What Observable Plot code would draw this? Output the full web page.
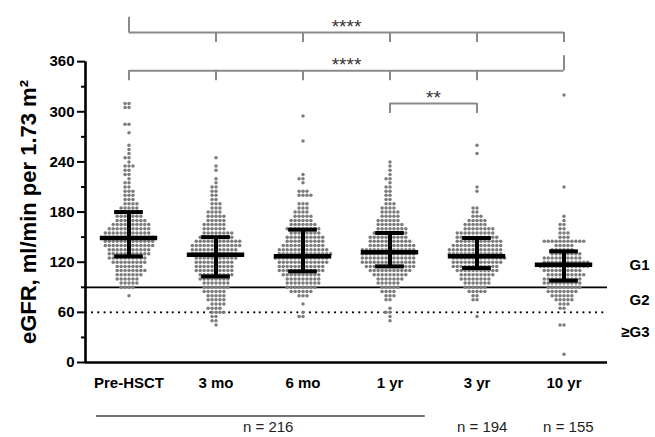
<!DOCTYPE html>
<html>
<head>
<meta charset="utf-8">
<script src="https://cdn.jsdelivr.net/npm/d3@7"></script>
<script src="https://cdn.jsdelivr.net/npm/@observablehq/plot@0.6"></script>
<style>
  html, body { margin: 0; padding: 0; background: #fff; }
  #chart svg { display: block; }
</style>
</head>
<body>
<div id="chart"></div>
<script>
// ---- Data ----
const groups = ["Pre-HSCT", "3 mo", "6 mo", "1 yr", "3 yr", "10 yr"];
const yTicks = [0, 60, 120, 180, 240, 300, 360];
const yMinorTicks = [30, 90, 150, 210, 270, 330];

// median and interquartile range per group
const medians = [149, 129, 127, 132, 127, 117];
const q1 = [127, 103, 109, 115, 113, 98];
const q3 = [180, 150, 159, 155, 149, 133];

// dot rows per group: [eGFR value, number of dots in that row]
const preHSCT = [[310,2],[305,2],[285,2],[275,1],[260,1],[255,1],[250,1],[245,2],[240,1],[235,3],[230,2],[225,2],[220,1],[215,2],[210,2],[205,3],[200,3],[195,3],[190,4],[185,5],[180,7],[175,7],[170,8],[165,10],[160,11],[155,12],[150,13],[145,13],[140,13],[135,11],[130,11],[125,10],[120,9],[115,7],[110,8],[105,7],[100,6],[95,5],[90,4],[80,1]];
const mo3 = [[245,1],[235,1],[230,1],[220,1],[215,1],[210,2],[205,2],[200,2],[195,2],[190,3],[185,3],[180,4],[175,5],[170,5],[165,6],[160,6],[155,8],[150,9],[145,12],[140,13],[135,12],[130,12],[125,11],[120,10],[115,10],[110,10],[105,9],[100,8],[95,7],[90,7],[85,6],[80,5],[75,5],[70,4],[65,4],[60,4],[55,2],[50,2],[45,1]];
const mo6 = [[295,1],[265,1],[225,1],[220,2],[215,1],[205,3],[200,4],[190,3],[185,3],[180,4],[175,5],[170,6],[165,7],[160,9],[155,8],[150,10],[145,10],[140,11],[135,13],[130,14],[125,14],[120,13],[115,12],[110,12],[105,10],[100,9],[95,9],[90,8],[85,6],[80,3],[70,1],[60,1],[55,2]];
const yr1 = [[240,1],[235,1],[230,1],[225,1],[220,2],[215,1],[210,2],[205,2],[200,2],[195,2],[190,3],[185,4],[180,5],[175,5],[170,6],[165,7],[160,8],[155,9],[150,10],[145,11],[140,12],[135,14],[130,14],[125,14],[120,14],[115,13],[110,11],[105,9],[100,7],[95,6],[90,5],[85,4],[80,3],[75,2],[65,1],[60,2],[55,1],[50,1]];
const yr3 = [[260,1],[250,1],[210,1],[205,1],[185,2],[180,2],[175,3],[170,5],[165,6],[160,8],[155,10],[150,11],[145,12],[140,13],[135,14],[130,14],[125,14],[120,13],[115,12],[110,11],[105,9],[100,8],[95,7],[90,6],[85,5],[80,2],[75,2],[55,1]];
const yr10 = [[320,1],[210,1],[175,1],[170,1],[165,2],[160,2],[155,3],[150,3],[145,11],[140,5],[135,6],[130,8],[125,10],[120,12],[115,13],[110,10],[105,10],[100,10],[95,10],[90,9],[85,8],[80,6],[75,5],[70,3],[65,2],[45,2],[10,1]];

const nLabels = ["n = 216", "n = 194", "n = 155"];
const gradeLabels = ["G1", "G2", "\u2265G3"];
const yLabel = "eGFR, ml/min per 1.73 m\u00B2";

// significance brackets
const bracketDefs = [
  {from: "Pre-HSCT", to: "10 yr", label: "****", up: ["Pre-HSCT"]},
  {from: "Pre-HSCT", to: "10 yr", label: "****", up: ["10 yr"]},
  {from: "1 yr", to: "3 yr", label: "**", up: []}
];

// ---- Build tables ----
const rowsByGroup = [preHSCT, mo3, mo6, yr1, yr3, yr10];
const points = groups.flatMap((g, i) =>
  rowsByGroup[i].flatMap(([v, c]) => Array.from({length: c}, () => ({g, v}))));
const stats = groups.map((g, i) => ({g, med: medians[i], lo: q1[i], hi: q3[i]}));

// layout constants (annotation placement, not data)
const bracketLevels = [395, 349, 310];
const upLen = 18, downLen = 12;
const gradeY = [116, 74, 36];

const hSegs = [], vTicks = [], starTexts = [];
bracketDefs.forEach((b, k) => {
  const i0 = groups.indexOf(b.from), i1 = groups.indexOf(b.to);
  const lvl = bracketLevels[k];
  for (let i = i0; i <= i1; i++) {
    hSegs.push({g: groups[i], y: lvl, x1: i === i0 ? 0 : -1, x2: i === i1 ? 0 : 1});
    const up = b.up.includes(groups[i]);
    vTicks.push({g: groups[i], y1: lvl, y2: up ? lvl + upLen : lvl - downLen});
  }
  const mid = (i0 + i1) / 2, mi = Math.round(mid);
  starTexts.push({g: groups[mi], x: (mid - mi) * 2, y: lvl + 6.5, text: b.label});
});

const W = 655, H = 437, mL = 82, mR = 46, mT = 11, mB = 75;
const band = (W - mL - mR) / groups.length;
const dotPeriod = band / 14;
const font = "'Liberation Sans', Arial, Helvetica, sans-serif";

const chart = Plot.plot({
  width: W, height: H,
  marginLeft: mL, marginRight: mR, marginTop: mT, marginBottom: mB,
  facet: {marginTop: 0, marginBottom: 0, marginLeft: 0, marginRight: 0},
  style: {fontFamily: font, background: "white"},
  fx: {domain: groups, padding: 0, label: null},
  x: {domain: [-1, 1], axis: null},
  y: {domain: [0, 420], axis: null},
  marks: [
    // reference lines
    Plot.ruleY([90], {stroke: "black", strokeWidth: 1.8}),
    Plot.ruleY([60], {stroke: "black", strokeWidth: 2.2, strokeDasharray: `0,${dotPeriod}`, strokeLinecap: "round", strokeDashoffset: -7}),
    // dots
    Plot.dot(points, Plot.dodgeX({anchor: "middle", padding: 0.45}, {fx: "g", y: "v", r: 1.75, fill: "#7c7c7c"})),
    // median and IQR
    Plot.ruleX(stats, {fx: "g", x: () => 0, y1: "lo", y2: "hi", stroke: "black", strokeWidth: 4}),
    Plot.ruleY(stats, {fx: "g", y: "med", x1: () => -0.66, x2: () => 0.66, stroke: "black", strokeWidth: 4.5}),
    Plot.ruleY(stats, {fx: "g", y: "lo", x1: () => -0.33, x2: () => 0.33, stroke: "black", strokeWidth: 4}),
    Plot.ruleY(stats, {fx: "g", y: "hi", x1: () => -0.33, x2: () => 0.33, stroke: "black", strokeWidth: 4}),
    // axes
    Plot.ruleY([0], {stroke: "black", strokeWidth: 2.6}),
    Plot.ruleX([groups[0]], {fx: d => d, x: () => -1, y1: () => 0, y2: () => 360, stroke: "black", strokeWidth: 2.6}),
    Plot.axisY({ticks: yTicks, tickSize: 8, tickPadding: 3, strokeWidth: 2, fontSize: 15, fontWeight: "bold", fontFamily: font, fill: "black", label: null}),
    Plot.axisY({ticks: yMinorTicks, tickSize: 4, strokeWidth: 2, text: null, label: null}),
    Plot.axisFx({anchor: "bottom", tickSize: 0, tickPadding: 15, fontSize: 15, fontWeight: "bold", fontFamily: font, fill: "black", label: null}),
    Plot.text([yLabel], {fx: () => groups[0], x: () => -1, y: () => 180, text: d => d, rotate: -90, dx: -57, fontSize: 22, fontWeight: "bold", fontFamily: font, fill: "black"}),
    // grade labels
    Plot.text(gradeLabels, {fx: () => groups[5], x: () => 1, y: (d, i) => gradeY[i], text: d => d, textAnchor: "end", dx: 42, fontSize: 15, fontWeight: "bold", fontFamily: font, fill: "black"}),
    // brackets
    Plot.ruleY(hSegs, {fx: "g", y: "y", x1: "x1", x2: "x2", stroke: "#8a8a8a", strokeWidth: 2}),
    Plot.ruleX(vTicks, {fx: "g", x: () => 0, y1: "y1", y2: "y2", stroke: "#8a8a8a", strokeWidth: 2}),
    Plot.text(starTexts, {fx: "g", x: "x", y: "y", text: "text", fontSize: 19, fontFamily: font, fill: "#333"}),
    // sample sizes
    Plot.ruleY([{g: groups[0], x1: -0.75, x2: 1}, {g: groups[1], x1: -1, x2: 1}, {g: groups[2], x1: -1, x2: 1}, {g: groups[3], x1: -1, x2: 0.81}],
      {fx: "g", y: () => -64, x1: "x1", x2: "x2", stroke: "#444", strokeWidth: 1.5}),
    Plot.text([{g: groups[2], x: -0.8, t: nLabels[0]}, {g: groups[4], x: 0.12, t: nLabels[1]}, {g: groups[5], x: 0.1, t: nLabels[2]}],
      {fx: "g", x: "x", y: () => -78, text: "t", fontSize: 15, fontFamily: font, fill: "#222"})
  ]
});
document.getElementById("chart").appendChild(chart);
</script>
</body>
</html>
